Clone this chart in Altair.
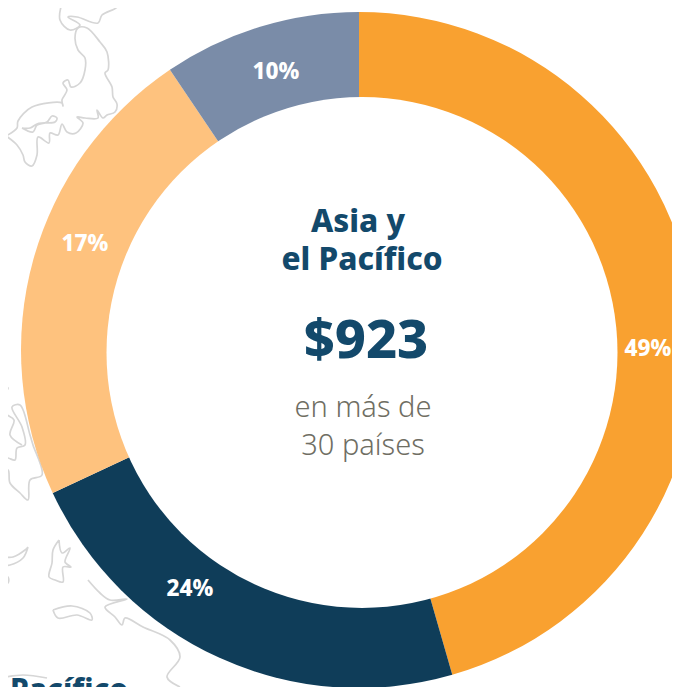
import altair as alt
import pandas as pd

# Slices: share of the ring as drawn in the picture, and the printed labels
slice_names = ["Naranja", "Azul", "Claro", "Gris"]
slice_shares = [45.55, 22.5, 22.5, 9.45]
slice_colors = ["#F9A130", "#0F3D59", "#FEC27E", "#7A8CA8"]
label_texts = ["49%", "24%", "17%", "10%"]

# Background map outlines (page x, page y)
map_shapes = {
    "honshu": [(6,136),(17,128),(18,121),(32,107),(62,103),(63,106),(62,100),(67,90),(63,83),(68,80),(71,87),(80,83),(85,70),(85,58),(78,50),(75,38),(78,28),(87,28),(100,42),(107,52),(108,70),(105,73),(112,87),(113,97),(117,104),(115,112),(107,115),(103,118),(97,110),(98,118),(85,118),(77,117),(83,123),(76,133),(67,132),(62,124),(58,135),(50,133),(49,143),(38,137),(37,155),(32,166),(25,162),(23,155),(17,145),(6,136)],
    "hokkaido": [(62,3),(60,20),(70,30),(80,25),(68,17),(77,17),(98,23),(102,15),(117,7),(115,3),(107,0)],
    "sea": [(22,128),(33,132),(37,125),(45,123),(55,122),(57,118),(52,116),(47,122),(37,124),(30,128),(22,128)],
    "coast": [(0,457),(8,458),(15,460),(17,448),(25,445),(22,427),(12,407),(20,405),(30,435),(33,445),(42,475),(30,480),(28,500),(20,493),(10,483),(8,470),(0,473)],
    "isle1": [(0,385),(8,388),(3,395),(5,413),(14,420),(10,435),(22,445)],
    "isle2": [(59,540),(62,553),(70,548),(65,562),(71,567),(63,567),(63,582),(55,580),(49,577),(52,563),(53,550),(59,540)],
    "isle3": [(28,547),(23,558),(10,565),(0,565),(0,558),(13,557),(25,550),(28,547)],
    "isle4": [(53,610),(72,606),(90,613),(92,620),(77,615),(58,618),(53,610)],
    "guinea": [(88,580),(100,593),(110,600),(127,599),(105,607),(115,617),(122,625),(125,618),(143,627),(170,640),(180,657),(167,677),(180,687)],
    "isle5": [(0,622),(5,620),(4,640),(0,643)],
    "isle6": [(0,577),(8,577),(8,583),(0,583)],
    "isle7": [(0,678),(23,675),(47,678)],
}

rows = []
for name, pts in map_shapes.items():
    for i, (px, py) in enumerate(pts):
        rows.append({"shape": name, "i": i, "px": px, "py": py})
map_df = pd.DataFrame(rows)

slices = pd.DataFrame({
    "name": slice_names,
    "share": slice_shares,
    "idx": range(len(slice_names)),
})

W, H = 664, 679

outlines = alt.Chart(map_df).mark_line(
    color="#D6D6D6", strokeWidth=1.7, clip=True, interpolate="catmull-rom"
).encode(
    x=alt.X("px:Q", axis=None, scale=alt.Scale(domain=[8, 672], range=[0, W], zero=False)),
    y=alt.Y("py:Q", axis=None, scale=alt.Scale(domain=[8, 687], range=[0, H], zero=False)),
    detail="shape:N",
    order="i:Q",
)

# The outer disc and the white hole are not quite concentric in the reference
ring = alt.Chart(slices).mark_arc(clip=True, outerRadius=338, innerRadius=0).encode(
    theta=alt.Theta("share:Q", stack=True),
    color=alt.Color("name:N", legend=None,
                    scale=alt.Scale(domain=slice_names, range=slice_colors)),
    order=alt.Order("idx:Q"),
    x=alt.value(351),
    y=alt.value(342),
)

hole = alt.Chart(pd.DataFrame({"a": [0]})).mark_circle(
    color="white", opacity=1, size=261121
).encode(x=alt.value(354), y=alt.value(344.5))


def text(content, px, py, size, color, weight=800, font="Noto Sans"):
    return alt.Chart(pd.DataFrame({"t": [content]})).mark_text(
        font=font, fontSize=size, fontWeight=weight, color=color,
        align="center", baseline="alphabetic",
    ).encode(text="t:N", x=alt.value(px - 8), y=alt.value(py - 8))


layers = [
    outlines,
    alt.Chart(pd.DataFrame({"t": ["Pacífico"]})).mark_text(
        font="Noto Sans", fontSize=30, fontWeight=800, color="#13496B",
        align="left", baseline="alphabetic",
    ).encode(text="t:N", x=alt.value(2), y=alt.value(692)),
    ring,
    hole,
    text(label_texts[0], 648, 356, 22.5, "white"),
    text(label_texts[1], 190, 596, 22.5, "white"),
    text(label_texts[2], 85, 251, 22.5, "white"),
    text(label_texts[3], 276, 79, 22.5, "white"),
    text("Asia y", 358, 232, 31.5, "#13496B"),
    text("el Pacífico", 362, 270, 31.5, "#13496B"),
    text("$923", 366, 358, 54, "#13496B"),
    text("en más de", 363, 417, 29, "#6F6E63", weight=300),
    text("30 países", 363, 455, 29, "#6F6E63", weight=300),
]

chart = alt.layer(*layers).resolve_scale(color="independent").properties(
    width=W, height=H, padding=0, autosize=alt.AutoSizeParams(type="none")
).configure_view(stroke=None)

chart.save("out.html", embed_options={"renderer": "svg", "actions": False})
